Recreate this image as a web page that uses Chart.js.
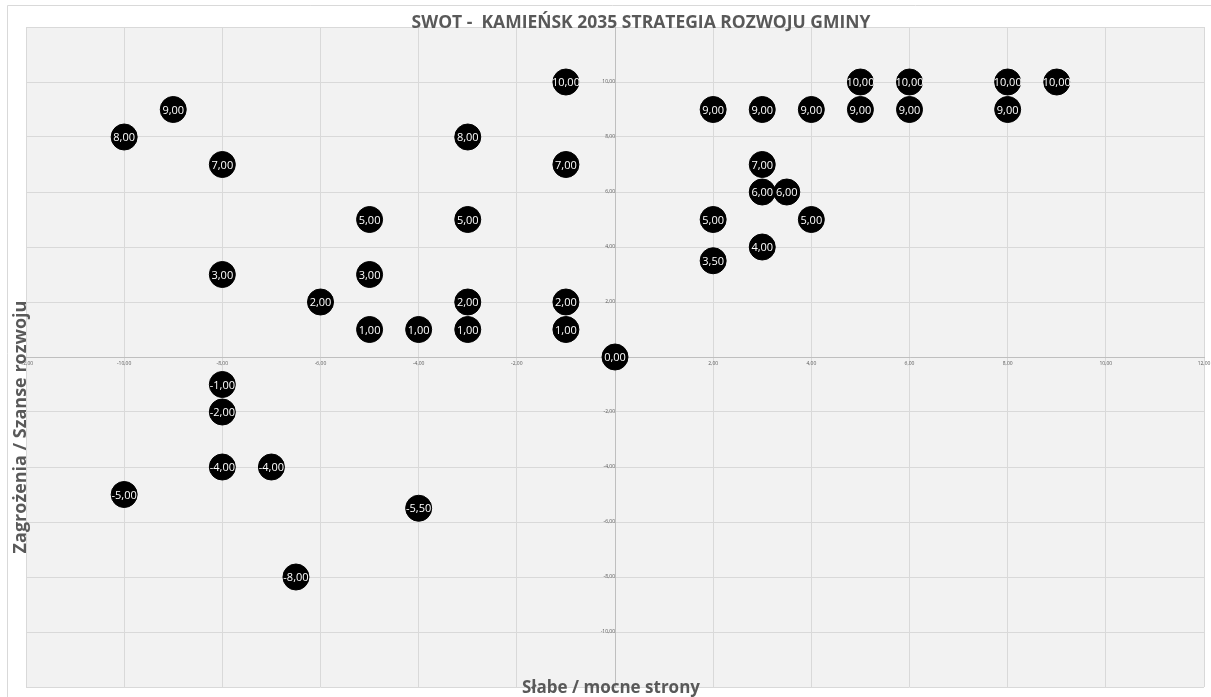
<!DOCTYPE html>
<html>
<head>
<meta charset="utf-8">
<script src="https://cdn.jsdelivr.net/npm/chart.js@4/dist/chart.umd.min.js"></script>
<style>
  html, body { margin: 0; padding: 0; background: #fff; overflow: hidden; }
  #wrap { position: relative; width: 1218px; height: 701px; }
  #swot { display: block; }
</style>
</head>
<body>
<div id="wrap"><canvas id="swot"></canvas></div>
<script>
let title = 'SWOT -  KAMIEŃSK 2035 STRATEGIA ROZWOJU GMINY';
let xTitle = 'Słabe / mocne strony';
let yTitle = 'Zagrożenia / Szanse rozwoju';

// slabe / mocne strony
let xValues = [-1, -9, -10, -8, -3, -1, -5, -3, -8, -5, -6, -3, -1, -5, -4, -3, -1, 0,
  5, 6, 8, 9, 2, 3, 4, 5, 6, 8, 3, 3, 3.5, 4, 2, 3, 2,
  -8, -8, -8, -7, -10, -4, -6.5];
// zagrozenia / szanse rozwoju
let yValues = [10, 9, 8, 7, 8, 7, 5, 5, 3, 3, 2, 2, 2, 1, 1, 1, 1, 0,
  10, 10, 10, 10, 9, 9, 9, 9, 9, 9, 7, 6, 6, 5, 5, 4, 3.5,
  -1, -2, -4, -4, -5, -5.5, -8];

let axisMin = -12;
let axisMax = 12;
let axisStep = 2;

function fmt(v) {
  return v.toFixed(2).replace('.', ',');
}

let points = [];
for (let i = 0; i <= xValues.length - 1; i++) {
  points.push({x: xValues[i], y: yValues[i]});
}

let chartBg = {
  id: 'chartBg',
  beforeDraw(chart) {
    let ctx = chart.ctx;
    let a = chart.chartArea;
    ctx.save();
    ctx.fillStyle = '#f2f2f2';
    ctx.fillRect(a.left, a.top, a.right - a.left, a.bottom - a.top);
    ctx.strokeStyle = '#d9d9d9';
    ctx.lineWidth = 1;
    ctx.beginPath();
    ctx.moveTo(7.5, 701);
    ctx.lineTo(7.5, 5.5);
    ctx.lineTo(1218, 5.5);
    ctx.stroke();
    ctx.restore();
  }
};

let pointLabels = {
  id: 'pointLabels',
  afterDatasetsDraw(chart) {
    let ctx = chart.ctx;
    let meta = chart.getDatasetMeta(0);
    ctx.save();
    ctx.fillStyle = '#ffffff';
    ctx.font = '11px "Open Sans"';
    ctx.textAlign = 'center';
    ctx.textBaseline = 'middle';
    meta.data.forEach((el, i) => {
      ctx.fillText(fmt(yValues[i]), el.x, el.y + 1);
    });
    ctx.restore();
  }
};

let titles = {
  id: 'titles',
  afterDraw(chart) {
    let ctx = chart.ctx;
    ctx.save();
    ctx.fillStyle = '#595959';
    ctx.textAlign = 'center';
    ctx.textBaseline = 'middle';
    ctx.font = 'bold 17.5px "Open Sans"';
    ctx.fillText(title, 641, 23);
    ctx.font = 'bold 17px "Open Sans"';
    ctx.fillText(xTitle, 611, 688);
    ctx.font = 'bold 18px "Open Sans"';
    ctx.translate(21, 427);
    ctx.rotate(-Math.PI / 2);
    ctx.fillText(yTitle, 0, 0);
    ctx.restore();
  }
};

let ctx = document.getElementById('swot').getContext('2d');
let swot = new Chart(ctx, {
  type: 'scatter',
  data: {
    datasets: [{
      data: points,
      backgroundColor: '#000000',
      borderColor: '#000000',
      pointRadius: 13,
      pointHoverRadius: 13,
    }],
  },
  options: {
    responsive: true,
    maintainAspectRatio: false,
    animation: false,
    layout: {
      padding: {left: 26, right: 4, top: 27, bottom: 9},
    },
    plugins: {
      legend: {display: false},
      tooltip: {enabled: false},
    },
    scales: {
      x: {
        type: 'linear',
        min: axisMin,
        max: axisMax,
        position: {y: 0},
        grid: {color: '#d9d9d9', drawTicks: false},
        border: {color: '#bfbfbf'},
        ticks: {
          stepSize: axisStep,
          padding: 4,
          color: '#595959',
          font: {size: 5, family: 'Open Sans'},
          maxRotation: 0,
          autoSkip: false,
          callback: (v) => fmt(v),
        },
      },
      y: {
        type: 'linear',
        min: axisMin,
        max: axisMax,
        position: {x: 0},
        grid: {color: '#d9d9d9', drawTicks: false},
        border: {color: '#bfbfbf'},
        ticks: {
          stepSize: axisStep,
          padding: 4,
          color: '#595959',
          font: {size: 5, family: 'Open Sans'},
          autoSkip: false,
          callback: (v) => (Math.abs(v) === axisMax ? '' : fmt(v)),
        },
      },
    },
  },
  plugins: [chartBg, pointLabels, titles],
});
</script>
</body>
</html>
